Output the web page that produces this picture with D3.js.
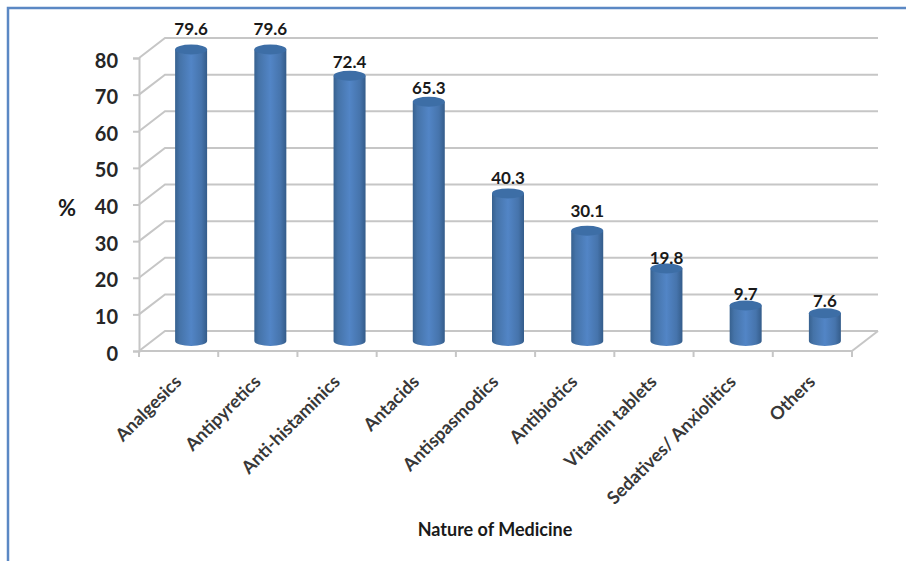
<!DOCTYPE html>
<html>
<head>
<meta charset="utf-8">
<script src="https://cdn.jsdelivr.net/npm/d3@7/dist/d3.min.js"></script>
<style>
  html, body { margin: 0; padding: 0; background: #fff; }
  svg { display: block; }
  text { font-family: Lato, "Open Sans", sans-serif; font-weight: 700; }
</style>
</head>
<body>
<svg id="chart" width="906" height="561"></svg>
<script>
// Self-medication by nature of medicine (%)
const categories = ["Analgesics", "Antipyretics", "Anti-histaminics", "Antacids", "Antispasmodics",
                    "Antibiotics", "Vitamin tablets", "Sedatives/ Anxiolitics", "Others"];
const percentages = [79.6, 79.6, 72.4, 65.3, 40.3, 30.1, 19.8, 9.7, 7.6];
const yTicks = [0, 10, 20, 30, 40, 50, 60, 70, 80];
const yTitle = "%";
const xTitle = "Nature of Medicine";
// Distance from each cylinder's cap centre to its value label baseline
const labelLift = [14, 14, 8, 8, 9, 14, 4.5, 5, 6];

const svg = d3.select("#chart");

// Pseudo-3D layout: the back wall is the front plane shifted up and to the right.
const depthX = 26, depthY = 20;
const x = d3.scaleBand().domain(categories).range([139, 852]);
const y = d3.scaleLinear().domain([0, 80]).range([351, 58]);
const gridColor = "#c6c6c6";

// Outer frame: top and left rules only
svg.append("path")
  .attr("d", "M907,8H8V561")
  .attr("fill", "none").attr("stroke", "#5b88c4").attr("stroke-width", 2.5);

// Bar body shading
const defs = svg.append("defs");
const bodyGrad = defs.append("linearGradient").attr("id", "cyl");
[[0, "#37618f"], [0.14, "#4573a8"], [0.5, "#5285c6"], [0.82, "#4674ac"], [1, "#345c8a"]]
  .forEach(([o, c]) => bodyGrad.append("stop").attr("offset", o).attr("stop-color", c));

// Gridlines on the back wall with their slanted return to the front plane
const grid = svg.append("g").attr("fill", "none").attr("stroke", gridColor).attr("stroke-width", 2);
grid.selectAll("path").data(yTicks).join("path")
  .attr("d", d => `M139,${y(d)}L${139 + depthX},${y(d) - depthY}H878`);

// Floor edge
grid.append("path").attr("d", `M852,${y(0)}L878,${y(0) - depthY}`);

// Value axis drawn through d3.axisLeft
const yAxis = svg.append("g").attr("transform", "translate(139,0)")
  .call(d3.axisLeft(y).tickValues(yTicks).tickSize(6).tickPadding(15));
yAxis.select(".domain").attr("stroke", gridColor).attr("stroke-width", 2);
yAxis.selectAll(".tick line").attr("stroke", gridColor).attr("stroke-width", 2);
yAxis.selectAll(".tick text")
  .attr("font-size", 20).attr("font-family", "Lato, sans-serif").attr("fill", "#262626")
  .attr("dy", "0.45em");

// Category axis line with ticks at the band edges
const xEdges = categories.map(c => x(c)).concat(x.range()[1]);
svg.append("path")
  .attr("d", `M139,${y(0)}H852`)
  .attr("fill", "none").attr("stroke", gridColor).attr("stroke-width", 2);
svg.append("g").selectAll("line").data(xEdges).join("line")
  .attr("x1", d => d).attr("x2", d => d)
  .attr("y1", y(0)).attr("y2", y(0) + 6)
  .attr("stroke", gridColor).attr("stroke-width", 2);

// Cylinders stand halfway between the front plane and the back wall
const barWidth = 32, capRy = 5;
const cx = c => x(c) + x.bandwidth() / 2 + depthX / 2 - 0.5;
const midY = v => y(v) - depthY / 2;

const bars = svg.append("g").selectAll("g")
  .data(categories.map((c, i) => ({ c, v: percentages[i], lift: labelLift[i] })))
  .join("g");

bars.append("path")
  .attr("d", d => {
    const l = cx(d.c) - barWidth / 2, r = cx(d.c) + barWidth / 2;
    return `M${l},${midY(d.v)}V${midY(0)}A${barWidth / 2},${capRy} 0 0 0 ${r},${midY(0)}V${midY(d.v)}Z`;
  })
  .attr("fill", "url(#cyl)");

bars.append("ellipse")
  .attr("cx", d => cx(d.c)).attr("cy", d => midY(d.v))
  .attr("rx", barWidth / 2).attr("ry", capRy)
  .attr("fill", "#3d6ea6");

// Value labels
bars.append("text")
  .attr("x", d => cx(d.c))
  .attr("y", d => midY(d.v) - d.lift)
  .attr("text-anchor", "middle")
  .attr("font-size", 17).attr("fill", "#1a1a1a")
  .text(d => d.v);

// Slanted category labels
svg.append("g").selectAll("text").data(categories).join("text")
  .attr("transform", c => `translate(${x(c) + x.bandwidth() / 2 + 4},${y(0) + 32}) rotate(-45)`)
  .attr("text-anchor", "end")
  .attr("font-size", 18).attr("fill", "#383838")
  .text(c => c);

// Axis titles
svg.append("text").attr("x", 67).attr("y", 216).attr("text-anchor", "middle")
  .attr("font-size", 22).attr("fill", "#1a1a1a").text(yTitle);
svg.append("text").attr("x", 495).attr("y", 536).attr("text-anchor", "middle")
  .attr("font-size", 18).attr("fill", "#1a1a1a").text(xTitle);
</script>
</body>
</html>
